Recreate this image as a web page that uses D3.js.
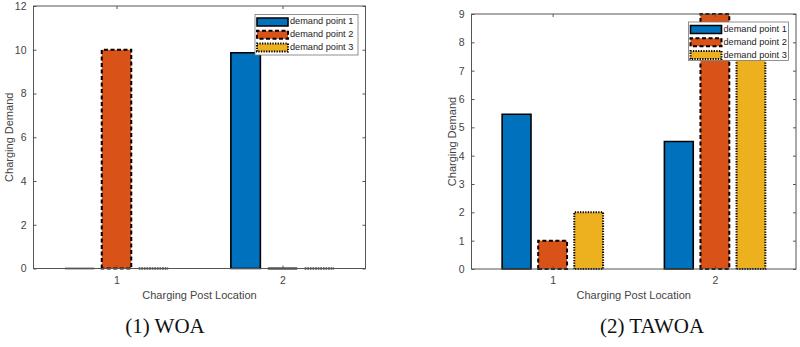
<!DOCTYPE html>
<html><head><meta charset="utf-8">
<script src="https://cdn.jsdelivr.net/npm/d3@7"></script>
<style>body{margin:0;background:#fff}svg{display:block}</style>
</head><body>
<svg id="c" width="800" height="347"></svg>
<script>
const categories = [1, 2];
const seriesNames = ["demand point 1", "demand point 2", "demand point 3"];
// WOA values per series (index = category)
const woaPoint1 = [0, 9.86];
const woaPoint2 = [10, 0];
const woaPoint3 = [0, 0];
// TAWOA values
const tawoaPoint1 = [5.46, 4.5];
const tawoaPoint2 = [1, 9];
const tawoaPoint3 = [2, 8];
const woaYTicks = [0, 2, 4, 6, 8, 10, 12];
const tawoaYTicks = [0, 1, 2, 3, 4, 5, 6, 7, 8, 9];
const captions = ["(1) WOA", "(2) TAWOA"];
const xLabel = "Charging Post Location";
const yLabel = "Charging Demand";

const colors = ["#0072BD", "#D95319", "#EDB120"];
const dashes = [null, "4,2.5", "1.3,1.3"];
const widths = [1.6, 2, 2];

const svg = d3.select("#c");

function chart(cfg) {
  const {left, right, top, bottom, yMax, yTicks, series, legend, yLabX, caption, capX} = cfg;
  const g = svg.append("g");
  const x = d3.scaleLinear().domain([0.5, 2.5]).range([left, right]);
  const y = d3.scaleLinear().domain([0, yMax]).range([bottom, top]);
  const axisColor = "#555";
  const nb = series.length;
  const gw = Math.min(0.8, nb / (nb + 1.5));
  const bw = gw / nb * 0.8;

  series.forEach((vals, si) => {
    const off = -gw / 2 + (2 * si + 1) * gw / (2 * nb);
    categories.forEach((c, ci) => {
      const x0 = x(c + off - bw / 2), x1 = x(c + off + bw / 2);
      const y0 = y(0), y1 = y(vals[ci]);
      g.append("path")
        .attr("d", `M${x0},${y0}V${y1}H${x1}V${y0}Z`)
        .attr("fill", colors[si])
        .attr("stroke", "#000")
        .attr("stroke-width", widths[si])
        .attr("stroke-dasharray", dashes[si]);
    });
  });

  // box
  g.append("rect").attr("x", left).attr("y", top).attr("width", right - left).attr("height", bottom - top)
    .attr("fill", "none").attr("stroke", axisColor).attr("stroke-width", 1);

  const yl = d3.axisLeft(y).tickValues(yTicks).tickSize(-3).tickPadding(7).tickFormat(d3.format("d"));
  const yr = d3.axisRight(y).tickValues(yTicks).tickSize(-3).tickFormat("");
  const xb = d3.axisBottom(x).tickValues(categories).tickSize(-3).tickPadding(8).tickFormat(d3.format("d"));
  const xt = d3.axisTop(x).tickValues(categories).tickSize(-3).tickFormat("");
  [[yl, `translate(${left},0)`], [yr, `translate(${right},0)`], [xb, `translate(0,${bottom})`], [xt, `translate(0,${top})`]].forEach(([ax, tr]) => {
    const a = g.append("g").attr("transform", tr).call(ax);
    a.select(".domain").remove();
    a.selectAll("line").attr("stroke", axisColor);
    a.selectAll("text").attr("fill", "#444").attr("font-family", "Liberation Sans, Arial, sans-serif").attr("font-size", 10.5);
  });

  g.append("text").attr("x", (left + right) / 2).attr("y", bottom + 30)
    .attr("text-anchor", "middle").attr("font-family", "Liberation Sans, Arial, sans-serif").attr("font-size", 11).attr("fill", "#444")
    .text(xLabel);
  g.append("text").attr("transform", `translate(${yLabX},${(top + bottom) / 2}) rotate(-90)`)
    .attr("text-anchor", "middle").attr("dominant-baseline", "middle").attr("font-family", "Liberation Sans, Arial, sans-serif").attr("font-size", 11).attr("fill", "#444")
    .text(yLabel);

  // legend
  const lg = g.append("g");
  lg.append("rect").attr("x", legend.x).attr("y", legend.y).attr("width", legend.w).attr("height", legend.h)
    .attr("fill", "#fff").attr("stroke", "#777").attr("stroke-width", 0.8);
  seriesNames.forEach((n, i) => {
    const cy = legend.y + 7.5 + i * 12.8;
    lg.append("path").attr("d", `M${legend.x + 2},${cy + 4}V${cy - 4}H${legend.x + 33}V${cy + 4}Z`)
      .attr("fill", colors[i]).attr("stroke", "#000").attr("stroke-width", widths[i]).attr("stroke-dasharray", dashes[i]);
    lg.append("text").attr("x", legend.x + 35).attr("y", cy).attr("dominant-baseline", "middle")
      .attr("font-family", "Liberation Sans, Arial, sans-serif").attr("font-size", 9.2).attr("fill", "#222").text(n);
  });

  svg.append("text").attr("x", capX).attr("y", 333).attr("text-anchor", "middle")
    .attr("font-family", "Liberation Serif, Times New Roman, serif").attr("font-size", 21).attr("fill", "#111")
    .text(caption);
}

chart({left: 33.5, right: 365.5, top: 6, bottom: 268.5, yMax: 12, yTicks: woaYTicks,
  series: [woaPoint1, woaPoint2, woaPoint3], legend: {x: 255, y: 14.5, w: 103, h: 40.5}, yLabX: 10,
  caption: captions[0], capX: 165});
chart({left: 471.5, right: 796, top: 14, bottom: 269, yMax: 9, yTicks: tawoaYTicks,
  series: [tawoaPoint1, tawoaPoint2, tawoaPoint3], legend: {x: 688.5, y: 22, w: 100, h: 38.5}, yLabX: 453,
  caption: captions[1], capX: 652});
</script>
</body></html>
